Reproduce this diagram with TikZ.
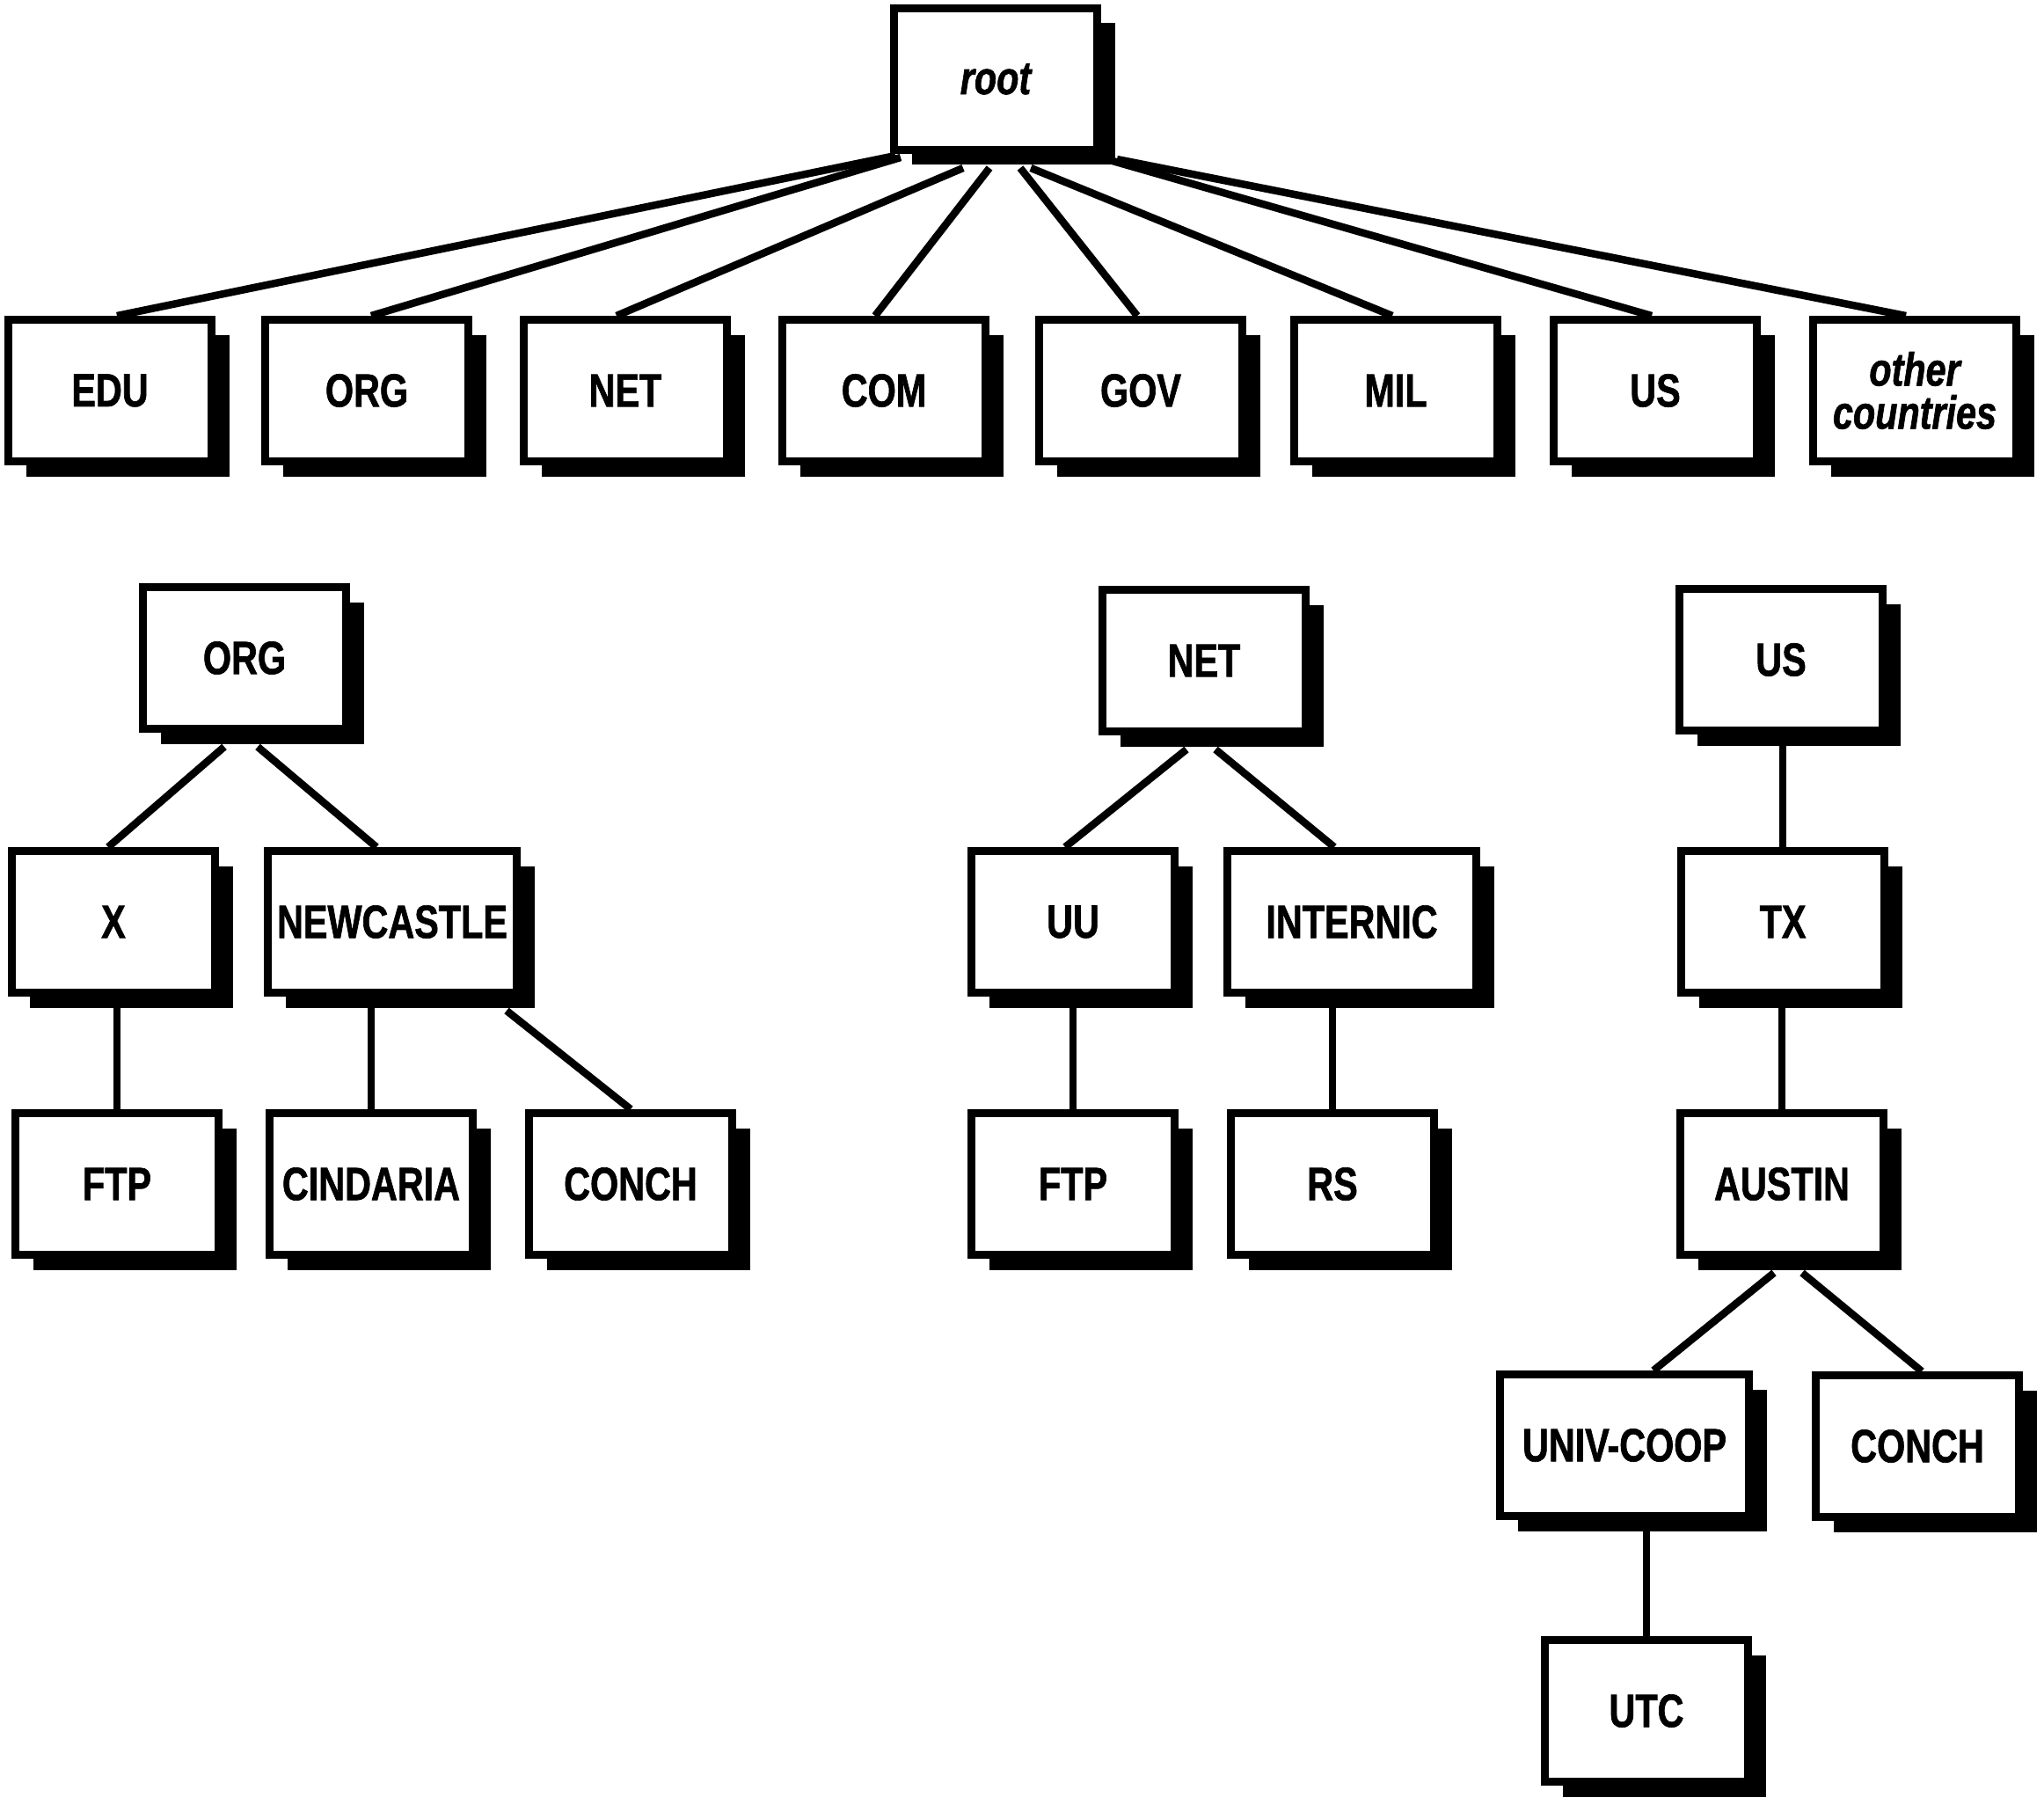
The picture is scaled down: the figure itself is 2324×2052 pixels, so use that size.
\documentclass[tikz,border=0pt]{standalone}
\usepackage{fontspec}
\newfontfamily\lab[FakeStretch=0.78,FakeBold=1.2]{Liberation Sans}
\usetikzlibrary{shadows}
\begin{document}
\begin{tikzpicture}[x=1pt,y=-1pt,
  box/.style={draw=black, fill=white, line width=9pt, minimum width=231pt, minimum height=161pt,
    inner sep=0pt, align=center, font={\lab\fontsize{53}{49}\selectfont\bfseries},
    drop shadow={shadow xshift=20pt, shadow yshift=-17pt, fill=black, opacity=1}},
  wide/.style={minimum width=283pt},
  link/.style={draw=black, line width=8.5pt}]
\fill[white] (0,0) rectangle (2324,2052);
\useasboundingbox (0,0) rectangle (2324,2052);
% top level
\node[box] (root) at (1132,90) {\itshape root};
\node[box] (edu) at (125,444) {EDU};
\node[box] (org) at (417,444) {ORG};
\node[box] (net) at (711,444) {NET};
\node[box] (com) at (1005,444) {COM};
\node[box] (gov) at (1297,444) {GOV};
\node[box] (mil) at (1587,444) {MIL};
\node[box] (us) at (1882,444) {US};
\node[box] (oth) at (2177,444) {\itshape other\\\itshape countries};
\draw[link] ([xshift=-114pt,yshift=-2pt]root.south) -- ([xshift=8pt]edu.north);
\draw[link] ([xshift=-108pt,yshift=-4pt]root.south) -- ([xshift=5pt]org.north);
\draw[link] ([xshift=-37pt,yshift=-16pt]root.south) -- ([xshift=-10pt]net.north);
\draw[link] ([xshift=-7pt,yshift=-16pt]root.south) -- ([xshift=-10pt]com.north);
\draw[link] ([xshift=28pt,yshift=-16pt]root.south) -- ([xshift=-4pt]gov.north);
\draw[link] ([xshift=40pt,yshift=-16pt]root.south) -- ([xshift=-4pt]mil.north);
\draw[link] ([xshift=133pt,yshift=-8pt]root.south) -- ([xshift=-4pt]us.north);
\draw[link] ([xshift=138pt,yshift=-6pt]root.south) -- ([xshift=-10pt]oth.north);
% ORG subtree
\node[box] (org2) at (278,748) {ORG};
\node[box] (x) at (129,1048) {X};
\node[box,wide] (newc) at (446,1048) {NEWCASTLE};
\node[box] (ftp) at (133,1346) {FTP};
\node[box] (cind) at (422,1346) {CINDARIA};
\node[box] (conch) at (717,1346) {CONCH};
\draw[link] ([xshift=-23pt,yshift=-16pt]org2.south) -- ([xshift=-6pt]x.north);
\draw[link] ([xshift=15pt,yshift=-16pt]org2.south) -- ([xshift=-18pt]newc.north);
\draw[link] (ftp.north) -- (ftp.north |- x.south);
\draw[link] (cind.north) -- (cind.north |- newc.south);
\draw[link] ([xshift=130pt,yshift=-16pt]newc.south) -- (conch.north);
% NET subtree
\node[box] (net2) at (1369,751) {NET};
\node[box] (uu) at (1220,1048) {UU};
\node[box,wide] (intn) at (1537,1048) {INTERNIC};
\node[box] (ftp2) at (1220,1346) {FTP};
\node[box] (rs) at (1515,1346) {RS};
\draw[link] ([xshift=-20pt,yshift=-16pt]net2.south) -- ([xshift=-9pt]uu.north);
\draw[link] ([xshift=13pt,yshift=-16pt]net2.south) -- ([xshift=-20pt]intn.north);
\draw[link] (ftp2.north) -- (ftp2.north |- uu.south);
\draw[link] (rs.north) -- (rs.north |- intn.south);
% US subtree
\node[box] (us2) at (2025,750) {US};
\node[box] (tx) at (2027,1048) {TX};
\node[box] (austin) at (2026,1346) {AUSTIN};
\node[box,wide] (univ) at (1847,1643) {UNIV-COOP};
\node[box] (conch2) at (2180,1644) {CONCH};
\node[box] (utc) at (1872,1945) {UTC};
\draw[link] (tx.north) -- (tx.north |- us2.south);
\draw[link] (austin.north) -- (austin.north |- tx.south);
\draw[link] ([xshift=-9pt,yshift=-16pt]austin.south) -- ([xshift=33pt]univ.north);
\draw[link] ([xshift=23pt,yshift=-16pt]austin.south) -- ([xshift=5pt]conch2.north);
\draw[link] (utc.north) -- (utc.north |- univ.south);
\end{tikzpicture}
\end{document}
